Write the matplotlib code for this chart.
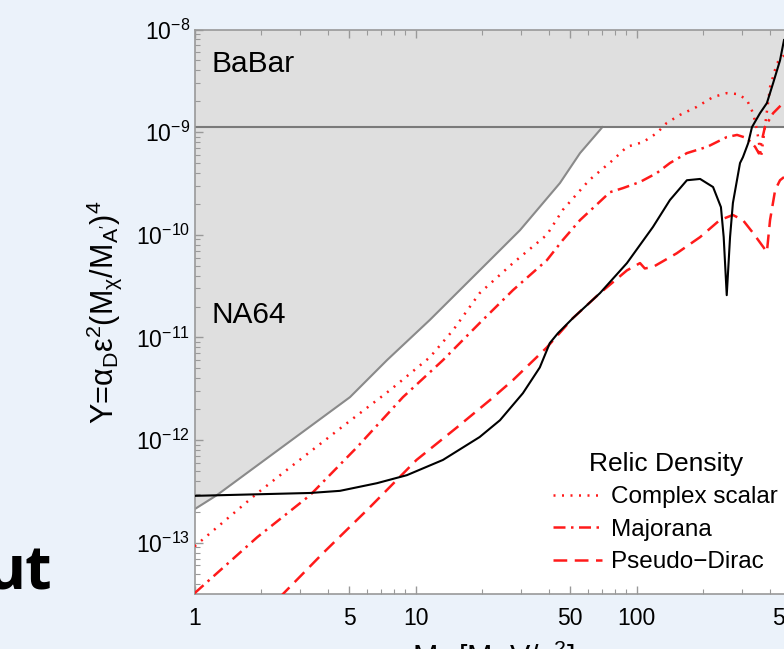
import matplotlib
matplotlib.use('Agg')
import matplotlib.pyplot as plt
import matplotlib.ticker as mticker
import numpy as np

# fuentes tipo Arial
plt.rcParams['font.family'] = ['Liberation Sans', 'DejaVu Sans']
plt.rcParams['mathtext.fontset'] = 'custom'
plt.rcParams['mathtext.rm'] = 'Liberation Sans'
plt.rcParams['mathtext.it'] = 'Liberation Sans:italic'
plt.rcParams['mathtext.default'] = 'regular'

# --- datos (M_chi en MeV, Y) ---
na64_m = [1, 1.26, 5.05, 7.42, 11.6, 21.7, 29.7, 45, 55.5, 68.3, 70]
na64_y = [2.12e-13, 2.9e-13, 2.62e-12, 6.0e-12, 1.48e-11, 5.66e-11, 1.11e-10,
          3.19e-10, 6.25e-10, 1.05e-9, 1.12e-9]
babar_y = 1.12e-9

cs_m = [1, 1.92, 2.70, 4.89, 7.66, 11.6, 14.8, 19.5, 27.6, 39.3, 46.4, 61, 78.2,
        90.5, 107, 123.6, 137, 157, 187, 222, 256, 288, 316, 337, 351, 366, 381,
        402, 432, 465]
cs_y = [9.2e-14, 3.03e-13, 5.4e-13, 1.46e-12, 3.06e-12, 6.4e-12, 1.18e-11, 2.7e-11,
        5.3e-11, 1.0e-10, 1.75e-10, 3.4e-10, 5.35e-10, 7.2e-10, 8.0e-10, 9.8e-10,
        1.23e-9, 1.47e-9, 1.76e-9, 2.2e-9, 2.4e-9, 2.35e-9, 2.06e-9, 1.53e-9,
        1.05e-9, 5.7e-10, 1.12e-9, 2.75e-9, 4.7e-9, 5.6e-9]

mj_m = [1, 1.92, 3.33, 5.43, 8.77, 13.3, 19.5, 27.6, 39.3, 46.4, 55.5, 63.5, 75.8,
        86.8, 103.7, 123.6, 141.6, 169, 209, 256, 285, 316, 344, 358, 381, 415, 465]
mj_y = [3.22e-14, 1.13e-13, 2.9e-13, 8.5e-13, 2.62e-12, 6.0e-12, 1.38e-11, 2.89e-11,
        5.66e-11, 8.9e-11, 1.39e-10, 1.82e-10, 2.6e-10, 2.85e-10, 3.27e-10, 4.0e-10,
        5.0e-10, 6.25e-10, 7.2e-10, 8.95e-10, 9.4e-10, 8.75e-10, 7.2e-10, 6.2e-10,
        1.12e-9, 1.53e-9, 1.96e-9]

pd_m = [2.43, 3.81, 6.22, 10.1, 15.4, 21.7, 27.6, 39.3, 51.5, 68.3, 90.5, 103.7,
        109, 118.6, 152, 194, 238, 273, 303, 337, 389, 402, 424, 446, 465]
pd_y = [2.94e-14, 7.9e-14, 2.22e-13, 6.4e-13, 1.33e-12, 2.45e-12, 3.84e-12, 8.0e-12,
        1.54e-11, 2.7e-11, 4.5e-11, 5.3e-11, 4.7e-11, 4.85e-11, 6.6e-11, 9.5e-11,
        1.39e-10, 1.56e-10, 1.39e-10, 1.04e-10, 6.8e-11, 1.39e-10, 2.73e-10,
        3.4e-10, 3.65e-10]

bk_m = [1, 3.33, 4.55, 6.69, 9.14, 13.3, 19.5, 24.1, 30.6, 36.5, 40.5, 44.1, 51.5,
        68.3, 90.5, 118.6, 141.6, 169, 194, 222, 241, 248, 256, 265, 273, 294, 303,
        320, 333, 362, 389, 415, 446, 465]
bk_y = [2.86e-13, 3.05e-13, 3.2e-13, 3.8e-13, 4.55e-13, 6.4e-13, 1.07e-12, 1.56e-12,
        2.86e-12, 5.1e-12, 8.8e-12, 1.1e-11, 1.54e-11, 2.7e-11, 5.3e-11, 1.19e-10,
        2.18e-10, 3.4e-10, 3.5e-10, 2.92e-10, 1.86e-10, 9.5e-11, 2.58e-11, 9.5e-11,
        2.04e-10, 5.0e-10, 5.7e-10, 7.8e-10, 1.12e-9, 1.53e-9, 1.92e-9, 3.0e-9,
        5.0e-9, 7.9e-9]

x_major = [1, 5, 10, 50, 100, 500]
x_labels = ['1', '5', '10', '50', '100', '500']
legend_labels = ['Complex scalar', 'Majorana', 'Pseudo\u2212Dirac']

fondo = '#ebf2fa'
gris_relleno = '#dfdfdf'
gris_linea = '#8a8a8a'
rojo = '#ff1a1a'

fig = plt.figure(figsize=(7.84, 6.49), dpi=100, facecolor=fondo)
ax = fig.add_axes([0.2482, 0.0847, 0.7607, 0.8698])
ax.set_facecolor('white')
ax.set_xscale('log')
ax.set_yscale('log')
ax.set_xlim(1, 500)
ax.set_ylim(3.16e-14, 1e-8)

# regiones excluidas
ax.axhspan(babar_y, 1e-8, color=gris_relleno, lw=0, zorder=1)
ax.fill_between(na64_m, na64_y, babar_y, color=gris_relleno, lw=0, zorder=1)
ax.plot(na64_m, na64_y, color=gris_linea, lw=1.5, zorder=2)
ax.axhline(babar_y, color='#7a7a7a', lw=1.5, zorder=2)

ax.text(1.19, 3.85e-9, 'BaBar', fontsize=21.5, va='baseline', ha='left', zorder=3)
ax.text(1.19, 1.38e-11, 'NA64', fontsize=21.5, va='baseline', ha='left', zorder=3)

# curvas
ax.plot(bk_m, bk_y, color='black', lw=1.5, zorder=5)
l1, = ax.plot(cs_m, cs_y, color=rojo, lw=1.8, ls=(0, (0.8, 2.6)), zorder=4)
l2, = ax.plot(mj_m, mj_y, color=rojo, lw=1.8, ls=(0, (4.8, 2.2, 1, 2.2)), zorder=4)
l3, = ax.plot(pd_m, pd_y, color=rojo, lw=1.8, ls=(0, (5.5, 3)), zorder=4)

leg = ax.legend([l1, l2, l3], legend_labels, title='Relic Density',
                loc='upper left', bbox_to_anchor=(0.7054, 1 - 452 / 649),
                bbox_transform=fig.transFigure, frameon=False, fontsize=17.5,
                title_fontsize=19, handlelength=2.0, handletextpad=0.4,
                labelspacing=0.43, borderpad=0, borderaxespad=0)
leg.set_zorder(6)

# ejes
ax.xaxis.set_major_locator(mticker.FixedLocator(x_major))
ax.xaxis.set_major_formatter(mticker.FixedFormatter(x_labels))
ax.xaxis.set_minor_locator(mticker.LogLocator(base=10, subs=np.arange(2, 10)))
ax.xaxis.set_minor_formatter(mticker.NullFormatter())
ax.yaxis.set_major_locator(mticker.LogLocator(base=10, numticks=20))
ax.yaxis.set_minor_locator(mticker.LogLocator(base=10, subs=np.arange(2, 10), numticks=20))
ax.yaxis.set_minor_formatter(mticker.NullFormatter())

ax.tick_params(which='both', direction='in', top=True, right=False,
               color='#999999', labelsize=16.5)
ax.tick_params(which='major', length=6, width=1)
ax.tick_params(which='minor', length=3.5, width=0.8)
ax.tick_params(axis='x', pad=9)
ax.tick_params(axis='y', pad=3)
for s in ax.spines.values():
    s.set_color('#999999')
    s.set_linewidth(1.2)

ax.set_ylabel(r"Y=$\alpha_D\epsilon^2(M_\chi/M_{A'})^4$", fontsize=22, labelpad=9)
ax.set_xlabel(r"$M_\chi$ [MeV/$c^2$]", fontsize=22, labelpad=6.5)

# resto del titulo de la diapositiva
fig.text(52 / 784, 1 - 590 / 649, 'ut', fontsize=44, fontweight='bold',
         family='Open Sans', ha='right', va='baseline')

fig.savefig('out.png', dpi=100, facecolor=fondo)
